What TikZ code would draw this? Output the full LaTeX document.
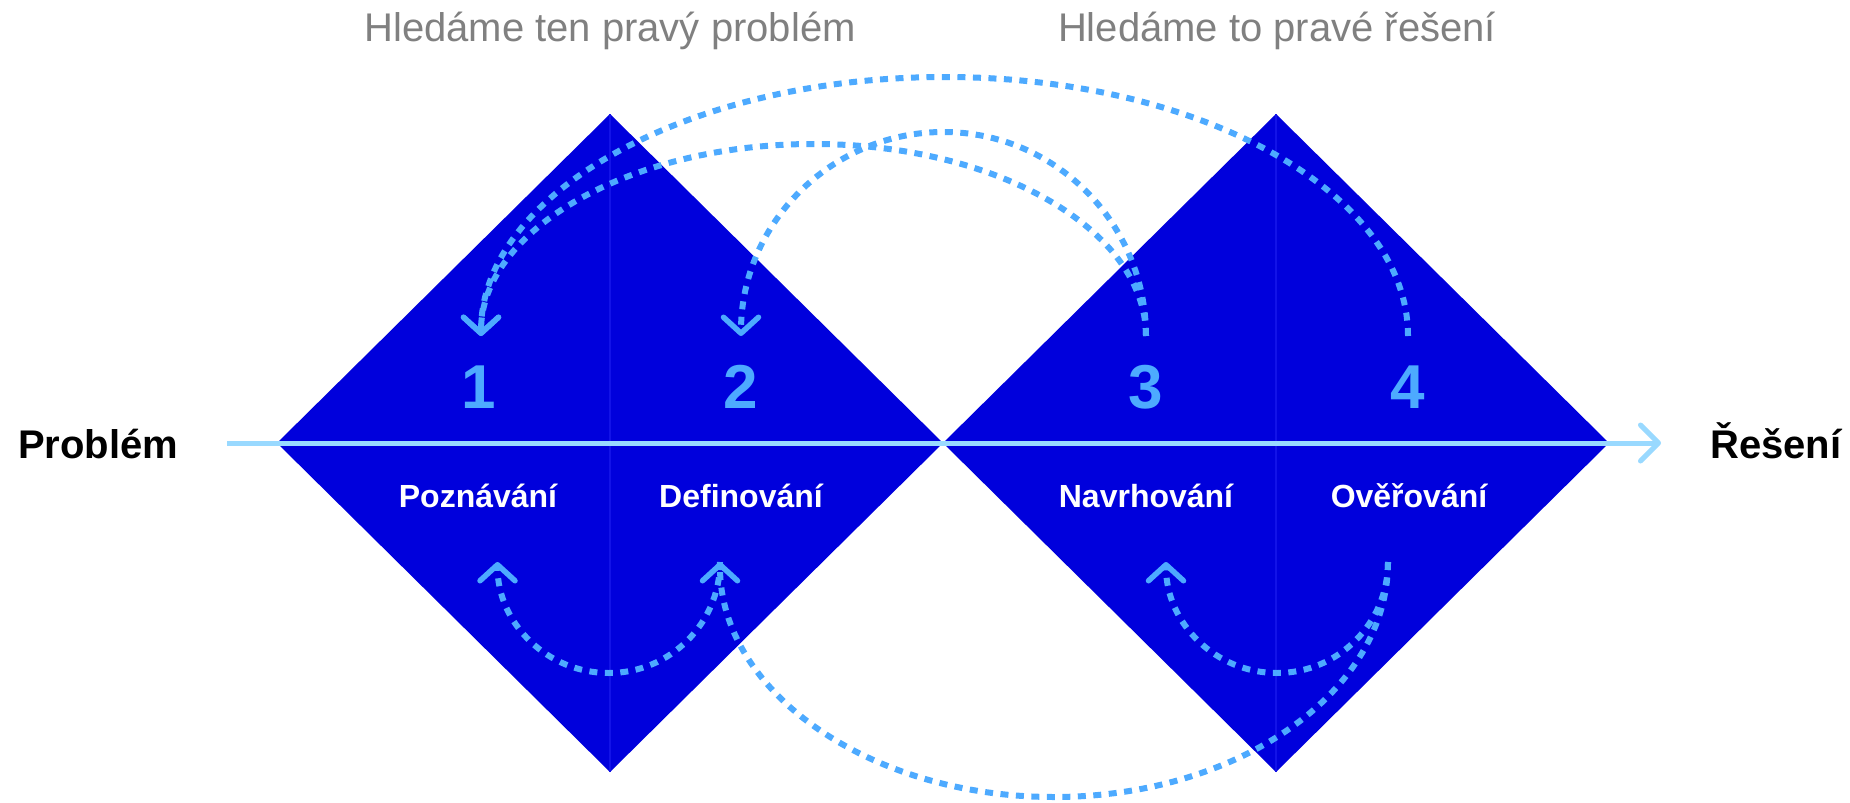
\documentclass[tikz,border=0pt]{standalone}
\usepackage{fontspec}
\setmainfont{Liberation Sans}
\usetikzlibrary{arrows.meta}
\definecolor{diamondblue}{RGB}{0,0,220}
\definecolor{seamblue}{RGB}{18,18,232}
\definecolor{flowblue}{RGB}{77,170,255}
\definecolor{axisblue}{RGB}{153,217,255}
\definecolor{titlegray}{RGB}{128,128,128}
\begin{document}
\begin{tikzpicture}[x=1pt,y=-1pt,
  diamondshape/.style={fill=diamondblue},
  seam/.style={draw=seamblue,line width=1.5pt},
  flow/.style={draw=flowblue,line width=6pt,dash pattern=on 8pt off 7.5pt},
  barbed/.style={-{Straight Barb[length=16pt,width=35pt,round,line width=5.5pt]}},
  axisline/.style={draw=axisblue,line width=5pt,-{Straight Barb[length=18pt,width=36pt,round]}},
  titletext/.style={anchor=base,inner sep=0pt,text=titlegray,font=\fontsize{40}{48}\selectfont},
  sidetext/.style={anchor=base west,inner sep=0pt,text=black,font=\fontsize{40}{48}\selectfont\bfseries},
  numtext/.style={anchor=base,inner sep=0pt,text=flowblue,font=\fontsize{62}{70}\selectfont\bfseries},
  phasetext/.style={anchor=base,inner sep=0pt,text=white,font=\fontsize{32}{38}\selectfont\bfseries}
]
\useasboundingbox[fill=white] (0,0) rectangle (1850,803);

% the two diamonds
\fill[diamondshape] (610,114) -- (943,443) -- (610,772) -- (277,443) -- cycle;
\fill[diamondshape] (1276,114) -- (1609,443) -- (1276,772) -- (943,443) -- cycle;
\draw[seam] (610,114) -- (610,772);
\draw[seam] (1276,114) -- (1276,772);

% main axis
\coordinate (axisL) at (227,443);
\coordinate (axisR) at (1661,443);
\draw[axisline] (axisL) -- (axisR);

% headings and end labels
\node[titletext] (goal1) at (610,41) {Hledáme ten pravý problém};
\node[titletext] (goal2) at (1277,41) {Hledáme to pravé řešení};
\node[sidetext] (start) at (18,458) {Problém};
\node[sidetext] (finish) at (1710,458) {Řešení};

% phase numbers and names
\node[numtext] (n1) at (479,408) {1};
\node[numtext] (n2) at (741,408) {2};
\node[numtext] (n3) at (1146,408) {3};
\node[numtext] (n4) at (1408,408) {4};
\node[phasetext] (p1) at (478,507) {Poznávání};
\node[phasetext] (p2) at (741,507) {Definování};
\node[phasetext] (p3) at (1146,507) {Navrhování};
\node[phasetext] (p4) at (1409,507) {Ověřování};

% start points of the feedback loops
\coordinate (top3) at (1146,336);
\coordinate (top4) at (1408,336);
\coordinate (bot2) at (720,562);
\coordinate (bot4) at (1388,562);

% loops above the axis
\draw[flow,barbed] (top4) arc[start angle=0,end angle=180,x radius=463.5pt,y radius=259pt];
\draw[flow,barbed] (top3) arc[start angle=0,end angle=180,x radius=332.5pt,y radius=192pt];
\draw[flow,barbed] (top3) arc[start angle=0,end angle=180,x radius=202.5pt,y radius=204pt];

% loops below the axis
\draw[flow,barbed] (bot2) arc[start angle=0,end angle=-180,x radius=111.25pt,y radius=111pt];
\draw[flow,barbed] (bot4) arc[start angle=0,end angle=-180,x radius=111pt,y radius=111pt];
\draw[flow,barbed] (bot4) arc[start angle=0,end angle=-180,x radius=334pt,y radius=235pt];
\end{tikzpicture}
\end{document}
